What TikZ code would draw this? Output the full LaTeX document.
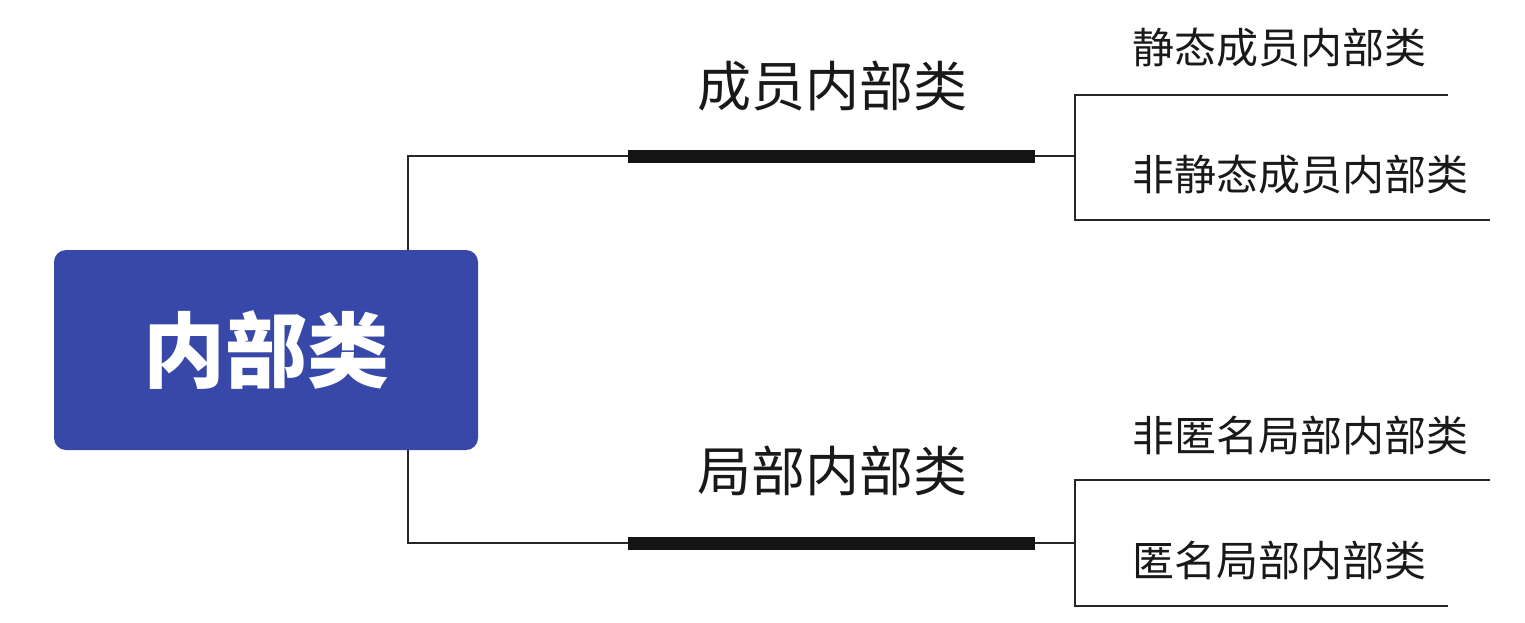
\documentclass[tikz,border=0pt]{standalone}
\usepackage{fontspec}
\newfontfamily\cjk{Noto Sans CJK SC}
\begin{document}
\begin{tikzpicture}[x=1pt,y=-1pt,
  rootbox/.style={draw=none,fill=rootblue,rounded corners=12pt,minimum width=424pt,minimum height=200pt,inner sep=0pt,
    font=\cjk\bfseries\fontsize{82}{90}\selectfont,text=white},
  midlabel/.style={inner sep=0pt,font=\cjk\fontsize{54}{60}\selectfont,text=black!90},
  leaflabel/.style={inner sep=0pt,anchor=west,font=\cjk\fontsize{42}{48}\selectfont,text=black!90},
  thinline/.style={line width=2pt,draw=black!85},
  thickbar/.style={line width=13pt,draw=black!92}]
\definecolor{rootblue}{RGB}{56,72,168}
\useasboundingbox (0,0) rectangle (1525,622);
% root
\node[rootbox] (root) at (266,350) {内部类};
% top branch
\coordinate (j1) at (408,156);
\coordinate (b1s) at (628,156);
\coordinate (b1e) at (1035,156);
\coordinate (f1) at (1075,156);
\coordinate (f1t) at (1075,95);
\coordinate (f1b) at (1075,220);
\coordinate (e1t) at (1448,95);
\coordinate (e1b) at (1490,220);
\node[midlabel] (m1) at (832,86) {成员内部类};
\node[leaflabel] (l1) at (1132,48) {静态成员内部类};
\node[leaflabel] (l2) at (1132,175) {非静态成员内部类};
\draw[thinline] (root.north -| j1) -- (j1) -- (b1s);
\draw[thickbar] (b1s) -- (b1e);
\draw[thinline] (b1e) -- (f1);
\draw[thinline] (e1t) -- (f1t) -- (f1b) -- (e1b);
% bottom branch
\coordinate (j2) at (408,543);
\coordinate (b2s) at (628,543);
\coordinate (b2e) at (1035,543);
\coordinate (f2) at (1075,543);
\coordinate (f2t) at (1075,480);
\coordinate (f2b) at (1075,606);
\coordinate (e2t) at (1490,480);
\coordinate (e2b) at (1448,606);
\node[midlabel] (m2) at (832,471) {局部内部类};
\node[leaflabel] (l3) at (1132,435) {非匿名局部内部类};
\node[leaflabel] (l4) at (1132,560) {匿名局部内部类};
\draw[thinline] (root.south -| j2) -- (j2) -- (b2s);
\draw[thickbar] (b2s) -- (b2e);
\draw[thinline] (b2e) -- (f2);
\draw[thinline] (e2t) -- (f2t) -- (f2b) -- (e2b);
\end{tikzpicture}
\end{document}
